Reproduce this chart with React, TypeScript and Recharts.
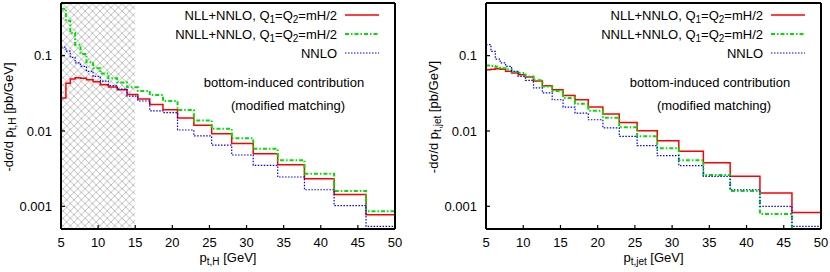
import React from 'react';
import { LineChart, Line, XAxis, YAxis, ReferenceArea } from 'recharts';

// log-spaced bin edges (GeV), shared by both panels
const binEdges = [5, 5.66, 6.25, 6.9, 7.63, 8.43, 9.32, 10.3, 11.38, 12.57, 13.89, 15.35, 16.96, 18.74, 20.7, 22.9, 25.3, 28.0, 30.9, 34.2, 37.8, 41.8, 46.1, 50];

// left panel: p_t,H
const higgsNLL = [0.0275, 0.043, 0.049, 0.051, 0.05, 0.048, 0.045, 0.041, 0.0384, 0.0354, 0.0304, 0.0266, 0.0224, 0.0192, 0.0149, 0.0119, 0.0092, 0.0068, 0.005, 0.00357, 0.00233, 0.00143, 0.00077];
const higgsNNLL = [0.42, 0.29, 0.2, 0.14, 0.105, 0.082, 0.068, 0.058, 0.05, 0.044, 0.038, 0.034, 0.03, 0.025, 0.019, 0.0138, 0.0107, 0.008, 0.0058, 0.0041, 0.0027, 0.0016, 0.00086];
const higgsNNLO = [0.13, 0.115, 0.095, 0.08, 0.072, 0.062, 0.053, 0.046, 0.04, 0.036, 0.029, 0.025, 0.0185, 0.0175, 0.0103, 0.0086, 0.0065, 0.0048, 0.0035, 0.00245, 0.00166, 0.00102, 0.00054];

// right panel: p_t,jet
const jetNLL = [0.065, 0.066, 0.067, 0.066, 0.062, 0.059, 0.056, 0.052, 0.046, 0.04, 0.0354, 0.0297, 0.026, 0.0208, 0.0168, 0.013, 0.0101, 0.0074, 0.0054, 0.0038, 0.0025, 0.0015, 0.00083];
const jetNNLL = [0.074, 0.073, 0.071, 0.068, 0.066, 0.061, 0.059, 0.053, 0.047, 0.039, 0.034, 0.0275, 0.023, 0.0186, 0.015, 0.0112, 0.0085, 0.0059, 0.0041, 0.0026, 0.0016, 0.00079, 0.0004];
const jetNNLO = [0.14, 0.114, 0.09, 0.08, 0.072, 0.062, 0.053, 0.047, 0.0373, 0.032, 0.026, 0.0208, 0.0173, 0.0141, 0.011, 0.0085, 0.0064, 0.0047, 0.00346, 0.0025, 0.00166, 0.001, 0.00054];

const xTicks = [5, 10, 15, 20, 25, 30, 35, 40, 45, 50];
const majorTicks = [0.001, 0.01, 0.1];
const minorTicks = [0.0006, 0.0007, 0.0008, 0.0009, 0.002, 0.003, 0.004, 0.005, 0.006, 0.007, 0.008, 0.009, 0.02, 0.03, 0.04, 0.05, 0.06, 0.07, 0.08, 0.09, 0.2, 0.3, 0.4];

const legendLabels = ['NLL+NNLO', 'NNLL+NNLO', 'NNLO'];

const FONT = '"Liberation Sans", Arial, Helvetica, sans-serif';
const RED = '#ff0000';
const GREEN = '#00e000';
const BLUE = '#0000ff';
const W = 415;
const H = 272;
const Y_DOMAIN: [number, number] = [0.0005, 0.5];
const THIN = 0.01; // axes with size 0 are not drawn at all

function buildSteps(nll: number[], nnll: number[], nnlo: number[]) {
  // stepAfter needs the last value repeated at the right edge
  return binEdges.map((x, i) => {
    const k = Math.min(i, nll.length - 1);
    return { x, nll: nll[k], nnll: nnll[k], nnlo: nnlo[k] };
  });
}

function Sub({ children }: { children: React.ReactNode }) {
  return <span style={{ fontSize: 10, position: 'relative', top: 3 }}>{children}</span>;
}

function Key({ color, dash, width }: { color: string; dash?: string; width: number }) {
  return (
    <svg width={34} height={6} style={{ display: 'block' }}>
      <line x1={0} y1={3} x2={34} y2={3} stroke={color} strokeWidth={width} strokeDasharray={dash} />
    </svg>
  );
}

interface PanelProps {
  left: number;
  marginLeft: number;
  marginRight: number;
  nll: number[];
  nnll: number[];
  nnlo: number[];
  sub: string;
  hatch?: boolean;
}

function Panel({ left, marginLeft, marginRight, nll, nnll, nnlo, sub, hatch }: PanelProps) {
  const data = buildSteps(nll, nnll, nnlo);
  const plotLeft = marginLeft;
  const plotRight = W - marginRight;
  const tickFont = { fill: '#000', fontSize: 13, fontFamily: FONT };
  const border = { stroke: '#000', strokeWidth: 2 };
  const tickLine = { stroke: '#000', strokeWidth: 1.2 };

  const rows = [
    { label: legendLabels[0], q: true, color: RED, dash: undefined, w: 1.5 },
    { label: legendLabels[1], q: true, color: GREEN, dash: '4 2 1.5 2', w: 2 },
    { label: legendLabels[2], q: false, color: BLUE, dash: '1.5 1.5', w: 1.2 },
  ];

  return (
    <div style={{ position: 'absolute', left, top: 0, width: W, height: H, fontFamily: FONT, color: '#000' }}>
      <LineChart width={W} height={H} data={data} margin={{ top: 3, right: marginRight, bottom: 43, left: marginLeft }}>
        <defs>
          <pattern id="hatch" width={7.4} height={7.4} patternUnits="userSpaceOnUse">
            <path d="M0,0 L7.4,7.4 M7.4,0 L0,7.4" stroke="#b0b0b0" strokeWidth={0.8} />
          </pattern>
        </defs>
        <XAxis xAxisId="b" dataKey="x" type="number" domain={[5, 50]} ticks={xTicks} interval={0} allowDataOverflow
          height={THIN} tickSize={-4} tickMargin={13} axisLine={border} tickLine={tickLine} tick={tickFont} />
        <XAxis xAxisId="t" orientation="top" dataKey="x" type="number" domain={[5, 50]} ticks={xTicks} interval={0} allowDataOverflow
          height={THIN} tickSize={-4} axisLine={border} tickLine={tickLine} tick={false} />
        <YAxis yAxisId="l" scale="log" type="number" domain={Y_DOMAIN} ticks={majorTicks} interval={0} allowDataOverflow
          width={THIN} tickSize={-4} tickMargin={13} axisLine={border} tickLine={tickLine} tick={tickFont} />
        <YAxis yAxisId="lm" scale="log" type="number" domain={Y_DOMAIN} ticks={minorTicks} interval={0} allowDataOverflow
          width={THIN} tickSize={-2} axisLine={false} tickLine={tickLine} tick={false} />
        <YAxis yAxisId="r" orientation="right" scale="log" type="number" domain={Y_DOMAIN} ticks={majorTicks} interval={0} allowDataOverflow
          width={THIN} tickSize={-4} axisLine={border} tickLine={tickLine} tick={false} />
        <YAxis yAxisId="rm" orientation="right" scale="log" type="number" domain={Y_DOMAIN} ticks={minorTicks} interval={0} allowDataOverflow
          width={THIN} tickSize={-2} axisLine={false} tickLine={tickLine} tick={false} />
        {hatch && (
          <ReferenceArea xAxisId="b" yAxisId="l" x1={5} x2={15} fill="url(#hatch)" fillOpacity={1} stroke="none" />
        )}
        <Line xAxisId="b" yAxisId="l" type="stepAfter" dataKey="nll" stroke={RED} strokeWidth={1.5} dot={false} isAnimationActive={false} />
        <Line xAxisId="b" yAxisId="l" type="stepAfter" dataKey="nnll" stroke={GREEN} strokeWidth={2} strokeDasharray="4 2 1.5 2" dot={false} isAnimationActive={false} />
        <Line xAxisId="b" yAxisId="l" type="stepAfter" dataKey="nnlo" stroke={BLUE} strokeWidth={1.2} strokeDasharray="1.5 1.5" dot={false} isAnimationActive={false} />
      </LineChart>

      {rows.map((r, i) => (
        <div key={r.label} style={{ position: 'absolute', top: 15 + i * 19 - 8, left: 0, width: plotRight - 16, height: 16, display: 'flex', justifyContent: 'flex-end', alignItems: 'center', fontSize: 13, whiteSpace: 'nowrap' }}>
          <span>
            {r.label}
            {r.q && (
              <>
                , Q<Sub>1</Sub>=Q<Sub>2</Sub>=mH/2
              </>
            )}
          </span>
          <span style={{ width: 8 }} />
          <Key color={r.color} dash={r.dash} width={r.w} />
        </div>
      ))}

      <div style={{ position: 'absolute', left: plotRight - 111, top: 82, transform: 'translate(-50%, -50%)', fontSize: 13, whiteSpace: 'nowrap' }}>
        bottom-induced contribution
      </div>
      <div style={{ position: 'absolute', left: plotRight - 107, top: 105, transform: 'translate(-50%, -50%)', fontSize: 13, whiteSpace: 'nowrap' }}>
        (modified matching)
      </div>

      <div style={{ position: 'absolute', left: plotLeft - 53, top: 117, transform: 'translate(-50%, -50%) rotate(-90deg)', fontSize: 13, whiteSpace: 'nowrap' }}>
        -dσ/d p<Sub>{sub}</Sub> [pb/GeV]
      </div>
      <div style={{ position: 'absolute', left: (plotLeft + plotRight) / 2, top: 257, transform: 'translate(-50%, -50%)', fontSize: 13, whiteSpace: 'nowrap' }}>
        p<Sub>{sub}</Sub> [GeV]
      </div>
    </div>
  );
}

export default function App() {
  return (
    <div style={{ position: 'absolute', left: 0, top: 0, width: 830, height: 272, background: '#fff' }}>
      <Panel left={0} marginLeft={61} marginRight={20} nll={higgsNLL} nnll={higgsNNLL} nnlo={higgsNNLO} sub="t,H" hatch />
      <Panel left={415} marginLeft={71} marginRight={9} nll={jetNLL} nnll={jetNNLL} nnlo={jetNNLO} sub="t,jet" />
    </div>
  );
}
